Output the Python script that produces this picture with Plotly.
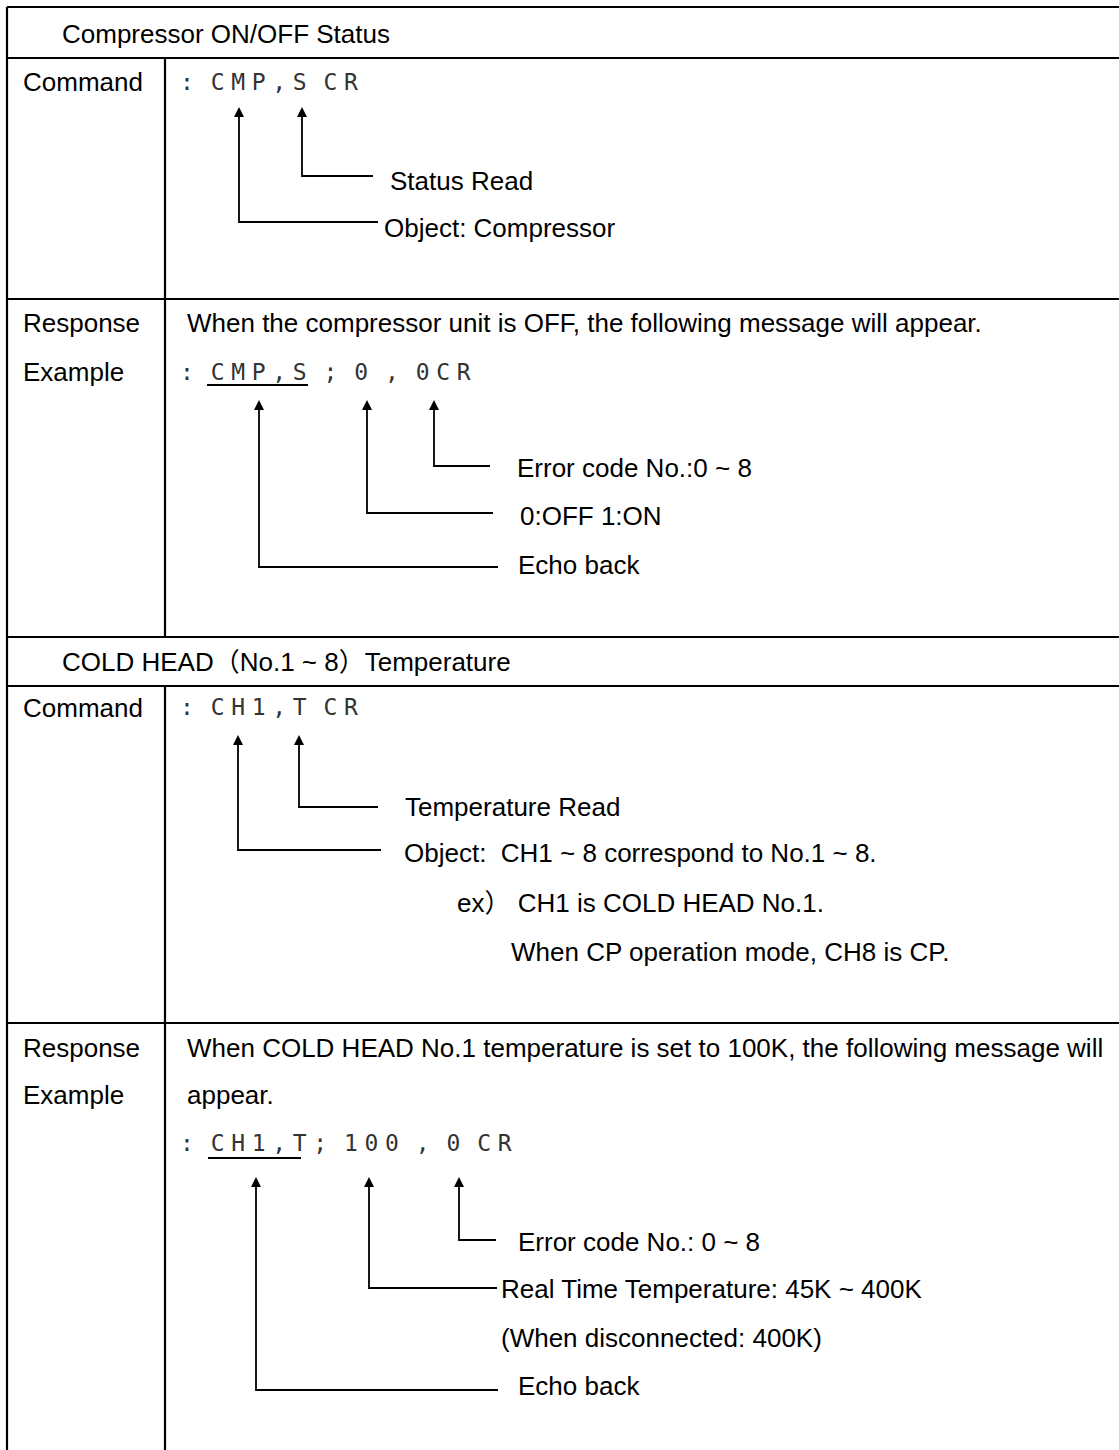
import plotly.graph_objects as go

W, H = 1119, 1450

# ---------------- table grid ----------------
grid_left_x = 7
grid_right_x = 1119
grid_row_y = [7, 58, 299, 637, 686, 1023]
divider_x = 165
divider_spans = [(58, 637), (686, 1450)]

# ---------------- texts ----------------
section_titles = ["Compressor ON/OFF Status", "COLD HEAD（No.1 ~ 8）Temperature"]
section_title_x = [60, 60]
section_title_y = [34, 662]

left_labels = ["Command", "Response", "Example", "Command", "Response", "Example"]
left_label_y = [82, 323, 372, 708, 1048, 1095]
left_label_x = 21

sentences = [
    "When the compressor unit is OFF, the following message will appear.",
    "When COLD HEAD No.1 temperature is set to 100K, the following message will",
    "appear.",
]
sentence_y = [323, 1048, 1095]
sentence_x = 185

# code strings (monospaced pitch layout)
code_lines = [
    ":  C M P , S  C R",
    ":  C M P , S  ;  0  ,  0 C R",
    ":  C H 1 , T  C R",
    ":  C H 1 , T ;  1 0 0  ,  0  C R",
]
code_y = [84, 374, 709, 1145]
code_origin_x = 187
code_pitch = 10.25

underline_x0 = [207, 208]
underline_x1 = [308, 301]
underline_y = [385, 1158]

# ---------------- connectors (arrow -> elbow -> label) ----------------
conn_x = [302, 239, 434, 367, 259, 299, 238, 459, 369, 256]
conn_tip_y = [107, 107, 400, 400, 400, 735, 735, 1177, 1177, 1177]
conn_elbow_y = [176, 222, 466, 513, 567, 807, 850, 1240, 1288, 1390]
conn_end_x = [373, 378, 490, 493, 498, 378, 381, 496, 497, 498]

conn_labels = [
    "Status Read",
    "Object: Compressor",
    "Error code No.:0 ~ 8",
    "0:OFF 1:ON",
    "Echo back",
    "Temperature Read",
    "Object:\u00a0\u00a0CH1 ~ 8 correspond to No.1 ~ 8.",
    "Error code No.: 0 ~ 8",
    "Real Time Temperature: 45K ~ 400K",
    "Echo back",
]
label_x = [388, 382, 515, 518, 516, 403, 402, 516, 499, 516]
label_y = [181, 228, 468, 516, 565, 807, 853, 1242, 1289, 1386]

notes = [
    "ex）\u00a0CH1 is COLD HEAD No.1.",
    "When CP operation mode, CH8 is CP.",
    "(When disconnected: 400K)",
]
note_x = [455, 509, 499]
note_y = [903, 952, 1338]

TEXT_FONT = "Liberation Sans, Arial, Noto Sans CJK JP, sans-serif"
CODE_FONT = "DejaVu Sans Mono, monospace"
TEXT_SIZE = 26

fig = go.Figure()

# grid lines
gx, gy = [], []
for y in grid_row_y:
    gx += [grid_left_x, grid_right_x, None]
    gy += [y, y, None]
gx += [grid_left_x, grid_left_x, None]
gy += [grid_row_y[0], H, None]
for (a, b) in divider_spans:
    gx += [divider_x, divider_x, None]
    gy += [a, b, None]
fig.add_trace(go.Scatter(x=gx, y=gy, mode="lines", line=dict(color="black", width=2.2),
                         hoverinfo="skip"))

# underlines
ux, uy = [], []
for x0, x1, y in zip(underline_x0, underline_x1, underline_y):
    ux += [x0, x1, None]
    uy += [y, y, None]
fig.add_trace(go.Scatter(x=ux, y=uy, mode="lines", line=dict(color="black", width=2),
                         hoverinfo="skip"))

# connectors
cx, cy = [], []
for x, t, e, xe in zip(conn_x, conn_tip_y, conn_elbow_y, conn_end_x):
    cx += [x, x, xe, None]
    cy += [t + 4, e, e, None]
fig.add_trace(go.Scatter(x=cx, y=cy, mode="lines", line=dict(color="black", width=1.8),
                         hoverinfo="skip"))
fig.add_trace(go.Scatter(x=conn_x, y=conn_tip_y, mode="markers",
                         marker=dict(symbol="arrow-up", size=10, color="black",
                                     line=dict(width=0)),
                         hoverinfo="skip"))

# code text (each char at monospaced pitch)
for s, y in zip(code_lines, code_y):
    xs, ts = [], []
    for i, ch in enumerate(s):
        if ch != " ":
            xs.append(code_origin_x + i * code_pitch)
            ts.append(ch)
    fig.add_trace(go.Scatter(x=xs, y=[y] * len(xs), mode="text", text=ts,
                             textposition="middle center",
                             textfont=dict(family=CODE_FONT, size=23, color="#333"),
                             hoverinfo="skip"))

annotations = []


def add_text(txt, x, y):
    annotations.append(dict(x=x, y=y, xref="x", yref="y", text=txt, showarrow=False,
                            xanchor="left", yanchor="middle",
                            font=dict(family=TEXT_FONT, size=TEXT_SIZE, color="black")))


for t, x, y in zip(section_titles, section_title_x, section_title_y):
    add_text(t, x, y)
for t, y in zip(left_labels, left_label_y):
    add_text(t, left_label_x, y)
for t, y in zip(sentences, sentence_y):
    add_text(t, sentence_x, y)
for t, x, y in zip(conn_labels, label_x, label_y):
    add_text(t, x, y)
for t, x, y in zip(notes, note_x, note_y):
    add_text(t, x, y)

fig.update_layout(
    width=W, height=H,
    margin=dict(l=0, r=0, t=0, b=0),
    paper_bgcolor="white", plot_bgcolor="white",
    showlegend=False,
    annotations=annotations,
    xaxis=dict(range=[0, W], visible=False, fixedrange=True),
    yaxis=dict(range=[H, 0], visible=False, fixedrange=True),
)

fig.write_html(
    "out.html",
    config={"displayModeBar": False, "staticPlot": True},
    post_script="document.body.style.margin='0px';document.body.style.padding='0px';"
                "document.body.style.overflow='hidden';",
)
